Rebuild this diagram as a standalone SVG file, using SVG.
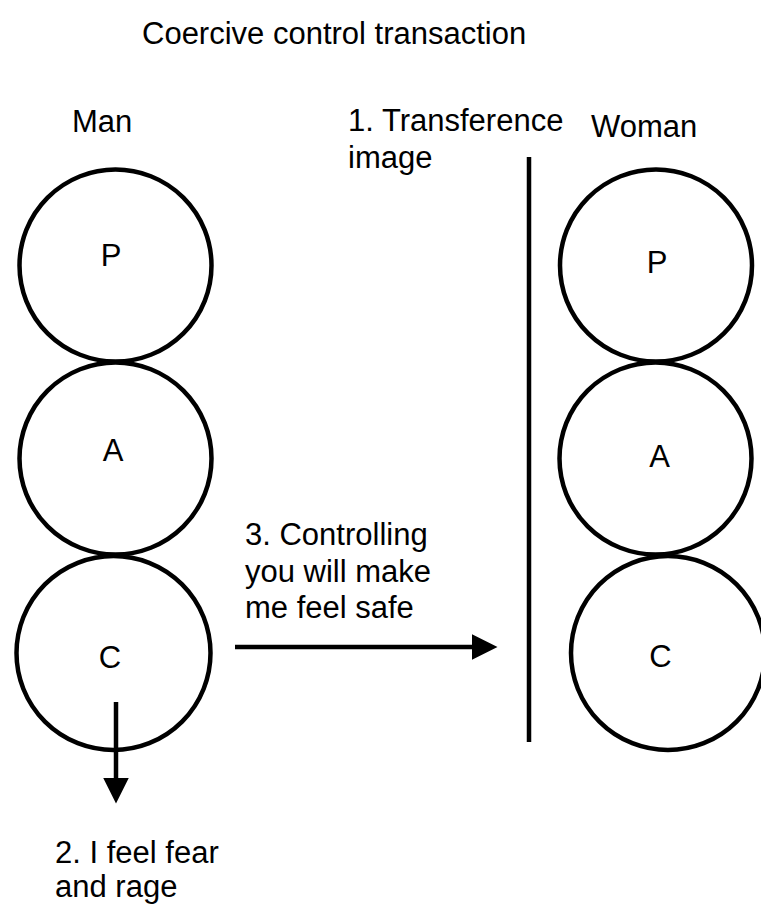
<svg xmlns="http://www.w3.org/2000/svg" width="761" height="906" viewBox="0 0 761 906">
  <style>
    text { font-family: "Liberation Sans", Arial, Helvetica, sans-serif; font-size: 31px; fill: #000; }
    .ego { fill: #fff; stroke: #000; stroke-width: 4.5; }
    .link { stroke: #000; stroke-width: 4.5; fill: none; }
    .mid { text-anchor: middle; }
  </style>
  <defs>
    <marker id="arrowhead" markerUnits="userSpaceOnUse" markerWidth="26" markerHeight="26" viewBox="0 0 25 25" refX="12" refY="12.5" orient="auto">
      <path d="M0,0 L25,12.5 L0,25 z" fill="#000"/>
    </marker>
  </defs>

  <rect width="761" height="906" fill="#fff"/>

  <text id="title" x="142" y="44">Coercive control transaction</text>

  <!-- Man: Parent / Adult / Child ego states -->
  <g id="man">
    <text x="72" y="132">Man</text>
    <g id="man-p">
      <circle class="ego" cx="115.5" cy="265.5" r="96"/>
      <text class="mid" x="111" y="266">P</text>
    </g>
    <g id="man-a">
      <circle class="ego" cx="115.5" cy="458.5" r="96"/>
      <text class="mid" x="113" y="461">A</text>
    </g>
    <g id="man-c">
      <circle class="ego" cx="113.5" cy="653" r="97"/>
      <text class="mid" x="110" y="668">C</text>
    </g>
  </g>

  <!-- Woman: Parent / Adult / Child ego states -->
  <g id="woman">
    <text x="591" y="137">Woman</text>
    <g id="woman-p">
      <circle class="ego" cx="656" cy="265.5" r="96"/>
      <text class="mid" x="657" y="273">P</text>
    </g>
    <g id="woman-a">
      <circle class="ego" cx="655.5" cy="458.5" r="96"/>
      <text class="mid" x="659.5" y="467">A</text>
    </g>
    <g id="woman-c">
      <circle class="ego" cx="668" cy="653" r="97"/>
      <text class="mid" x="660.5" y="667">C</text>
    </g>
  </g>

  <!-- Transference image screen -->
  <g id="transference">
    <line class="link" x1="529" y1="157" x2="529" y2="742"/>
    <text x="348" y="131">1. Transference</text>
    <text x="348" y="168">image</text>
  </g>

  <!-- Connectors -->
  <g id="connectors">
    <line class="link" x1="235" y1="647" x2="484" y2="647" marker-end="url(#arrowhead)"/>
    <line class="link" x1="116" y1="702" x2="116" y2="790" marker-end="url(#arrowhead)"/>
  </g>

  <g id="label-control">
    <text x="245" y="545">3. Controlling</text>
    <text x="245" y="582">you will make</text>
    <text x="245" y="618">me feel safe</text>
  </g>

  <g id="label-fear">
    <text x="55" y="863">2. I feel fear</text>
    <text x="55" y="897">and rage</text>
  </g>
</svg>
